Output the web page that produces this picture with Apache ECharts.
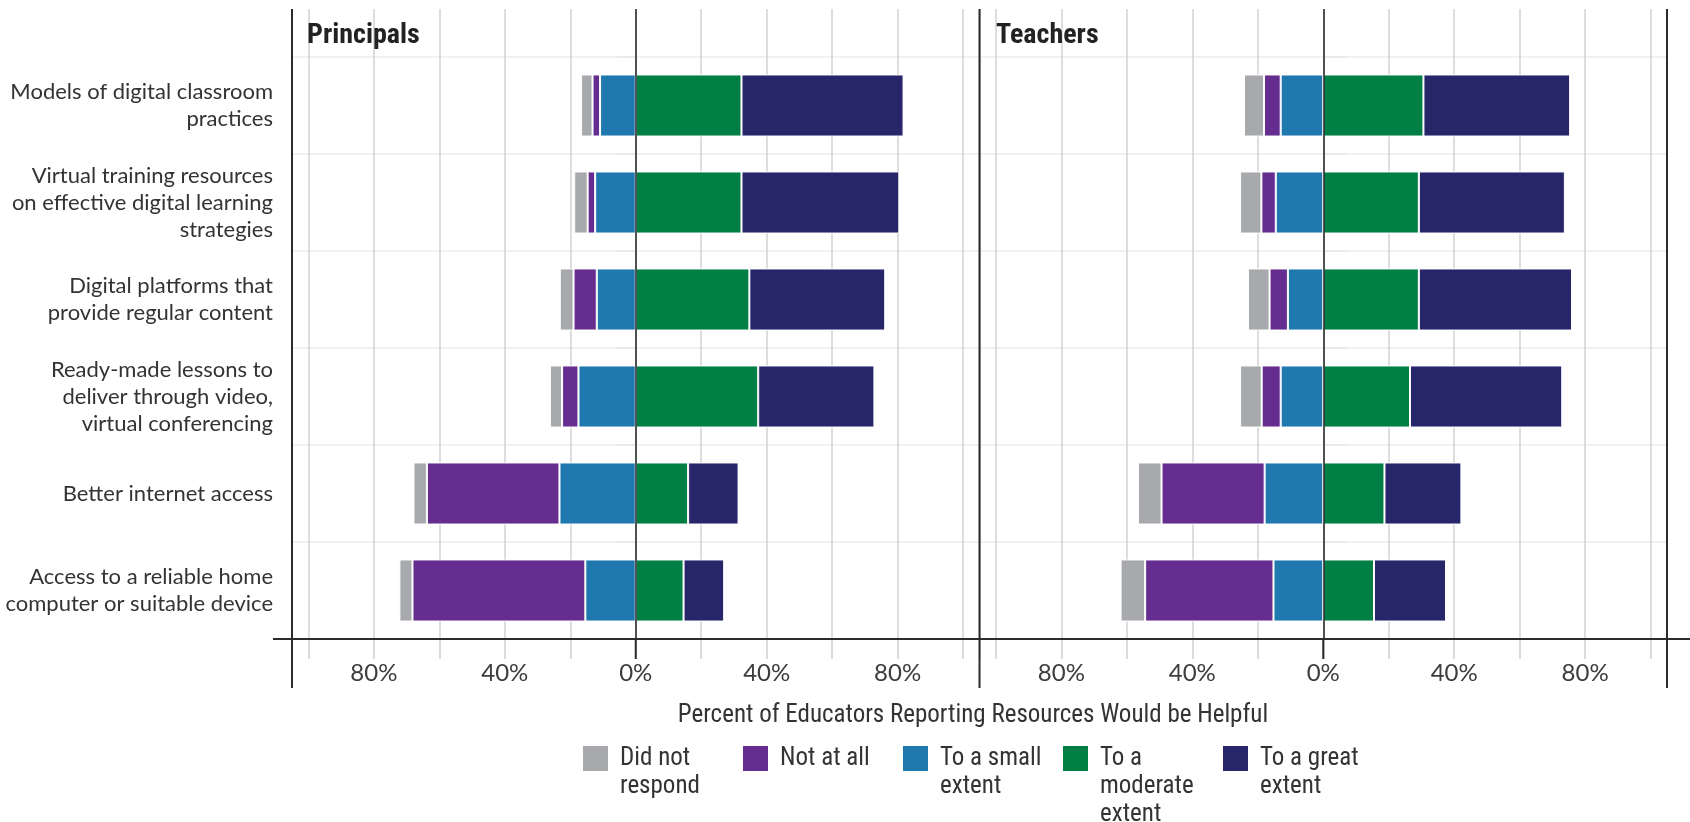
<!DOCTYPE html>
<html>
<head>
<meta charset="utf-8">
<script src="https://cdn.jsdelivr.net/npm/echarts@6/dist/echarts.min.js"></script>
<style>
  html, body { margin: 0; padding: 0; background: #fff; }
  #main { width: 1690px; height: 822px; }
</style>
</head>
<body>
<div id="main"></div>
<script>
// categories, top to bottom
const categories = [
  'Models of digital classroom\npractices',
  'Virtual training resources\non effective digital learning\nstrategies',
  'Digital platforms that\nprovide regular content',
  'Ready-made lessons to\ndeliver through video,\nvirtual conferencing',
  'Better internet access',
  'Access to a reliable home\ncomputer or suitable device'
];

// percent values
const principalsDidNot   = [3.5, 4.1, 4.2, 3.7, 4.1, 4.0];
const principalsNotAtAll = [2.3, 2.3, 7.1, 5.0, 40.5, 52.8];
const principalsSmall    = [10.9, 12.4, 11.9, 17.5, 23.3, 15.4];
const principalsModerate = [32.3, 32.3, 34.7, 37.4, 16.0, 14.6];
const principalsGreat    = [49.5, 48.2, 41.5, 35.5, 15.4, 12.4];

const teachersDidNot   = [6.1, 6.5, 6.6, 6.6, 7.2, 7.5];
const teachersNotAtAll = [5.1, 4.4, 5.6, 5.8, 31.5, 39.2];
const teachersSmall    = [13.0, 14.5, 10.8, 13.0, 17.9, 15.2];
const teachersModerate = [30.6, 29.2, 29.2, 26.5, 18.7, 15.5];
const teachersGreat    = [44.8, 44.6, 46.8, 46.5, 23.5, 22.0];

const tickLabels = [-80, -40, 0, 40, 80];
const legendNames = ['Did not respond', 'Not at all', 'To a small extent', 'To a moderate extent', 'To a great extent'];
const legendText = {
  'Did not respond': 'Did not\nrespond\n ',
  'Not at all': 'Not at all\n \n ',
  'To a small extent': 'To a small\nextent\n ',
  'To a moderate extent': 'To a\nmoderate\nextent',
  'To a great extent': 'To a great\nextent\n '
};

const colors = {
  'Did not respond': '#a7a9ac',
  'Not at all': '#652d8f',
  'To a small extent': '#2079ae',
  'To a moderate extent': '#007f45',
  'To a great extent': '#27266b'
};

// layout
const TOP = 9, HEAD = 57, AXIS_Y = 639, FRAME_BOTTOM = 688;
const P_LEFT = 292, MID = 979.5, T_RIGHT = 1667;
const condensed = "'Liberation Sans Narrow', 'Roboto Condensed', 'DejaVu Sans Condensed', sans-serif";
const bodyFont = 'Lato, sans-serif';

const chartDom = document.getElementById('main');
const myChart = echarts.init(chartDom);

function xAxisFor(gridIndex, showAxis) {
  return {
    type: 'value',
    gridIndex: gridIndex,
    min: -105,
    max: 105,
    splitNumber: 10,
    minInterval: 20,
    maxInterval: 20,
    axisLine: { show: showAxis, lineStyle: { color: '#2b2b2b', width: 2 } },
    axisTick: { show: showAxis, length: 20, lineStyle: { color: '#cfcfcf', width: 1.5 } },
    axisLabel: {
      show: showAxis,
      margin: 22,
      fontFamily: bodyFont,
      fontSize: 24,
      color: '#3d3d3d',
      formatter: function (v) {
        return tickLabels.indexOf(v) >= 0 ? Math.abs(v) + '%' : '';
      }
    },
    splitLine: { show: true, lineStyle: { color: '#d2d2d2', width: 1.5 } }
  };
}

function yAxisFor(gridIndex, position, showLabels, tickLen) {
  return {
    type: 'category',
    gridIndex: gridIndex,
    inverse: true,
    position: position,
    data: categories,
    axisLine: { show: false },
    axisTick: { show: true, length: tickLen, lineStyle: { color: '#e6e6e6', width: 1.5 } },
    axisLabel: {
      show: showLabels,
      margin: 19,
      fontFamily: bodyFont,
      fontSize: 22,
      lineHeight: 27,
      color: '#333',
      align: 'right'
    },
    splitLine: { show: true, lineStyle: { color: '#ececec', width: 1.5 } }
  };
}

const zeroLine = {
  silent: true,
  symbol: ['none', 'none'],
  label: { show: false },
  lineStyle: { color: '#222', width: 1.5, type: 'solid' },
  data: [{ xAxis: 0 }]
};

function panelSeries(gridIndex, stack, didNot, notAtAll, small, moderate, great) {
  const neg = function (arr) { return arr.map(function (v) { return -v; }); };
  const list = [
    ['To a small extent', neg(small)],
    ['Not at all', neg(notAtAll)],
    ['Did not respond', neg(didNot)],
    ['To a moderate extent', moderate],
    ['To a great extent', great]
  ];
  return list.map(function (item, i) {
    const s = {
      name: item[0],
      type: 'bar',
      stack: stack,
      xAxisIndex: gridIndex,
      yAxisIndex: gridIndex,
      barCategoryGap: '36%',
      itemStyle: { color: colors[item[0]], borderColor: '#fff', borderWidth: 1 },
      data: item[1]
    };
    if (i === 0) s.markLine = zeroLine;
    return s;
  });
}

// thin band above the bars, so the grid lines reach the panel titles
function headerSeries(gridIndex) {
  return {
    name: '',
    type: 'bar',
    xAxisIndex: gridIndex,
    yAxisIndex: gridIndex,
    data: [0],
    silent: true,
    markLine: zeroLine
  };
}

const option = {
  animation: false,
  color: legendNames.map(function (n) { return colors[n]; }),
  title: [
    { text: 'Principals', left: 307, top: 22, padding: 0,
      textStyle: { fontFamily: condensed, fontWeight: 'bold', fontSize: 28, color: '#222' } },
    { text: 'Teachers', left: 996, top: 22, padding: 0,
      textStyle: { fontFamily: condensed, fontWeight: 'bold', fontSize: 28, color: '#222' } },
    { text: 'Percent of Educators Reporting Resources Would be Helpful', left: 973, top: 703, padding: 0,
      textAlign: 'center',
      textStyle: { fontFamily: condensed, fontWeight: 'normal', fontSize: 25, color: '#333' } }
  ],
  legend: {
    data: legendNames,
    left: 581,
    top: 744,
    padding: 0,
    itemGap: 0,
    itemWidth: 27,
    itemHeight: 83,
    icon: 'path://M0,0H10V10H0ZM0,30.7L0.01,30.7',
    selectedMode: false,
    formatter: function (name) { return legendText[name]; },
    textStyle: {
      fontFamily: condensed,
      fontSize: 25,
      lineHeight: 28,
      color: '#333',
      width: 121,
      padding: [0, 0, 0, 6]
    }
  },
  grid: [
    { left: P_LEFT, top: HEAD, width: MID - P_LEFT, height: AXIS_Y - HEAD },
    { left: MID, top: HEAD, width: T_RIGHT - MID, height: AXIS_Y - HEAD },
    { left: P_LEFT, top: TOP, width: MID - P_LEFT, height: HEAD - TOP },
    { left: MID, top: TOP, width: T_RIGHT - MID, height: HEAD - TOP }
  ],
  xAxis: [xAxisFor(0, true), xAxisFor(1, true), xAxisFor(2, false), xAxisFor(3, false)],
  yAxis: [
    yAxisFor(0, 'left', true, 19),
    yAxisFor(1, 'right', false, 23),
    { type: 'category', gridIndex: 2, data: [''], show: false },
    { type: 'category', gridIndex: 3, data: [''], show: false }
  ],
  series: [].concat(
    panelSeries(0, 'principals', principalsDidNot, principalsNotAtAll, principalsSmall, principalsModerate, principalsGreat),
    panelSeries(1, 'teachers', teachersDidNot, teachersNotAtAll, teachersSmall, teachersModerate, teachersGreat),
    [headerSeries(2), headerSeries(3)]
  )
};

option && myChart.setOption(option);

// panel frames, the full axis line and the dark zero ticks
const zeroP = myChart.convertToPixel({ xAxisIndex: 0 }, 0);
const zeroT = myChart.convertToPixel({ xAxisIndex: 1 }, 0);
const dark = { stroke: '#2b2b2b', lineWidth: 2 };
function vline(x, y1, y2) {
  return { type: 'line', silent: true, z: 100, shape: { x1: x, y1: y1, x2: x, y2: y2 }, style: dark };
}
function hline(x1, x2, y) {
  return { type: 'line', silent: true, z: 100, shape: { x1: x1, y1: y, x2: x2, y2: y }, style: dark };
}
myChart.setOption({
  graphic: [
    vline(P_LEFT, TOP, FRAME_BOTTOM),
    vline(MID, TOP, FRAME_BOTTOM),
    vline(T_RIGHT, TOP, FRAME_BOTTOM),
    hline(P_LEFT - 19, 1690, AXIS_Y),
    vline(zeroP, AXIS_Y, AXIS_Y + 20),
    vline(zeroT, AXIS_Y, AXIS_Y + 20)
  ]
});
</script>
</body>
</html>
